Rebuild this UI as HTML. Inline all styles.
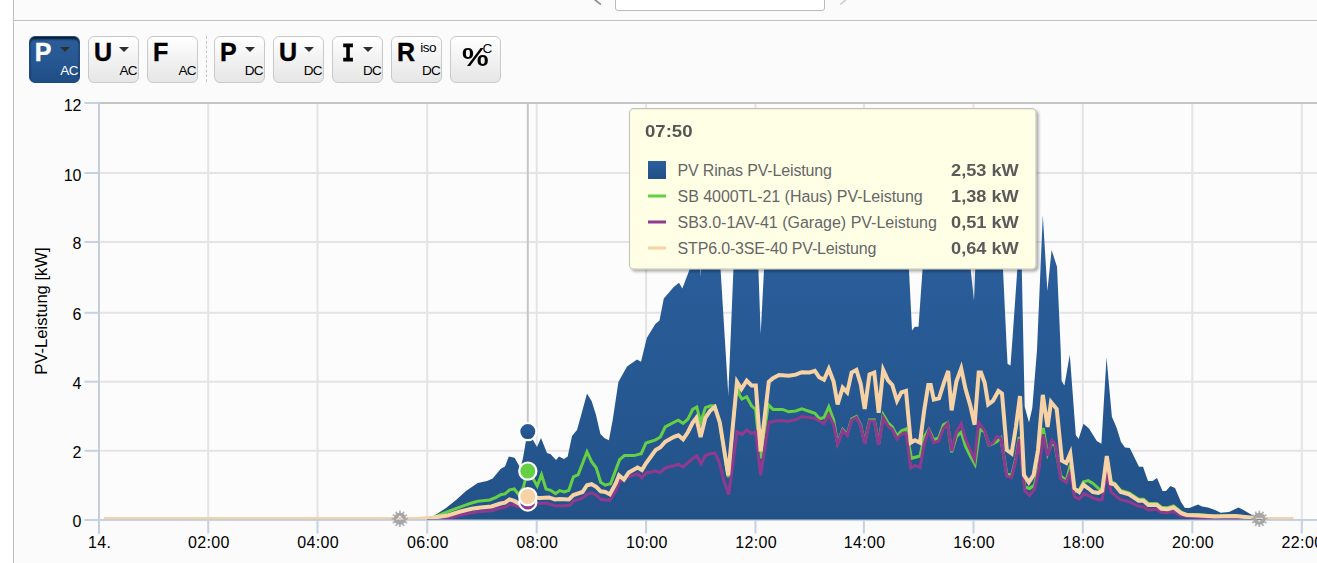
<!DOCTYPE html>
<html><head><meta charset="utf-8"><title>PV</title>
<style>
html,body{margin:0;padding:0;}
body{width:1317px;height:563px;overflow:hidden;background:#ffffff;position:relative;font-family:"Liberation Sans",sans-serif;color:#000;}
.abs{position:absolute;white-space:nowrap;}
.btn{position:absolute;top:36px;width:49.2px;height:45px;border:1px solid #c9c9c9;border-radius:6px;background:linear-gradient(#ffffff,#f3f3f3 45%,#e6e6e6);box-sizing:content-box;}
.btn.act{background:linear-gradient(#1c3f6b 0,#2a5c98 9%,#275893 50%,#1f4d84 100%);border-color:#1f4a7d;color:#fff;box-shadow:inset 0 2px 2px rgba(0,0,0,0.6);}
.btn .big{-webkit-text-stroke:0.4px currentColor;position:absolute;left:4.8px;top:0.5px;font-weight:bold;font-size:25px;line-height:29px;}
.btn .sub{position:absolute;right:1.5px;bottom:4px;font-size:13.5px;line-height:14px;letter-spacing:-0.7px;}
.btn .tri{position:absolute;left:30px;top:9.5px;width:0;height:0;border-left:5.5px solid transparent;border-right:5.5px solid transparent;border-top:5.8px solid #2e2e2e;}
.btn .iso{position:absolute;left:28px;top:4px;font-size:13.5px;line-height:14px;letter-spacing:-0.5px;}
.xl{position:absolute;top:533.8px;width:80px;text-align:center;font-size:16px;line-height:18px;letter-spacing:0.35px;}
.yl{position:absolute;left:20px;width:61.5px;text-align:right;font-size:16px;line-height:18px;}
.tl{position:absolute;left:677.5px;font-size:16px;line-height:20px;color:#666;white-space:nowrap;}
.tv{position:absolute;left:950.5px;font-size:16px;line-height:20px;color:#5a5a5a;font-weight:bold;white-space:nowrap;transform:scaleX(1.138);transform-origin:0 0;}
</style></head><body>

<div class="abs" style="left:13px;top:0;width:1304px;height:563px;background:#fbfbfb"></div>
<div class="abs" style="left:13px;top:19.9px;width:1304px;height:1.2px;background:#c2c2c2"></div>
<div class="abs" style="left:12.8px;top:0;width:1.5px;height:563px;background:#bdbdbd"></div>
<div class="abs" style="left:614.8px;top:-10px;width:208.1px;height:18.5px;border:1.2px solid #bababa;border-radius:3px;background:#fff"></div>
<svg class="abs" style="left:590px;top:0" width="260" height="12"><path d="M3.4,-1.4 L10.3,4.1" fill="none" stroke="#8c8c8c" stroke-width="1.7" stroke-linecap="round"/><path d="M256.5,-0.8 L250.8,4" fill="none" stroke="#cdcdcd" stroke-width="1.6" stroke-linecap="round"/></svg>
<svg width="1317" height="563" viewBox="0 0 1317 563" style="position:absolute;left:0;top:0">
<defs>
<linearGradient id="ab" x1="0" y1="0" x2="0" y2="1"><stop offset="0" stop-color="#2b5f9d"/><stop offset="1" stop-color="#225288"/></linearGradient>
<linearGradient id="sw" x1="0" y1="0" x2="0" y2="1"><stop offset="0" stop-color="#2b5f9d"/><stop offset="1" stop-color="#214f86"/></linearGradient>
<clipPath id="cp"><rect x="100" y="104" width="1217" height="416"/></clipPath>
<filter id="sh" x="-5%" y="-5%" width="112%" height="115%"><feGaussianBlur in="SourceAlpha" stdDeviation="1.6"/><feOffset dx="1.5" dy="1.5"/><feComponentTransfer><feFuncA type="linear" slope="0.35"/></feComponentTransfer><feMerge><feMergeNode/><feMergeNode in="SourceGraphic"/></feMerge></filter>
</defs>
<rect x="99" y="103" width="1218" height="417" fill="#fcfcfc"/>
<rect x="207.2" y="104" width="2" height="415" fill="#e4e4e6"/>
<rect x="316.5" y="104" width="2" height="415" fill="#e4e4e6"/>
<rect x="426.2" y="104" width="2" height="415" fill="#e4e4e6"/>
<rect x="535.7" y="104" width="2" height="415" fill="#e4e4e6"/>
<rect x="645.1" y="104" width="2" height="415" fill="#e4e4e6"/>
<rect x="754.5" y="104" width="2" height="415" fill="#e4e4e6"/>
<rect x="862.9" y="104" width="2" height="415" fill="#e4e4e6"/>
<rect x="972.5" y="104" width="2" height="415" fill="#e4e4e6"/>
<rect x="1081.8" y="104" width="2" height="415" fill="#e4e4e6"/>
<rect x="1191.3" y="104" width="2" height="415" fill="#e4e4e6"/>
<rect x="1300.8" y="104" width="2" height="415" fill="#e4e4e6"/>
<rect x="99" y="449.8" width="1218" height="2" fill="#e4e4e6"/>
<rect x="99" y="380.7" width="1218" height="2" fill="#e4e4e6"/>
<rect x="99" y="311.8" width="1218" height="2" fill="#e4e4e6"/>
<rect x="99" y="241.0" width="1218" height="2" fill="#e4e4e6"/>
<rect x="99" y="172.0" width="1218" height="2" fill="#e4e4e6"/>
<rect x="99" y="102" width="1218" height="2" fill="#c4c4c4"/>
<rect x="526.8" y="104" width="2" height="415" fill="#c6c6c6"/>
<rect x="84.5" y="519.0" width="14" height="2" fill="#c6d2e3"/>
<rect x="84.5" y="449.8" width="14" height="2" fill="#c6d2e3"/>
<rect x="84.5" y="380.7" width="14" height="2" fill="#c6d2e3"/>
<rect x="84.5" y="311.8" width="14" height="2" fill="#c6d2e3"/>
<rect x="84.5" y="241.0" width="14" height="2" fill="#c6d2e3"/>
<rect x="84.5" y="172.0" width="14" height="2" fill="#c6d2e3"/>
<rect x="84.5" y="102.0" width="14" height="2" fill="#c6d2e3"/>
<rect x="98.0" y="519" width="2" height="14.5" fill="#c6d2e3"/>
<rect x="207.2" y="519" width="2" height="14.5" fill="#c6d2e3"/>
<rect x="316.5" y="519" width="2" height="14.5" fill="#c6d2e3"/>
<rect x="426.2" y="519" width="2" height="14.5" fill="#c6d2e3"/>
<rect x="535.7" y="519" width="2" height="14.5" fill="#c6d2e3"/>
<rect x="645.1" y="519" width="2" height="14.5" fill="#c6d2e3"/>
<rect x="754.5" y="519" width="2" height="14.5" fill="#c6d2e3"/>
<rect x="862.9" y="519" width="2" height="14.5" fill="#c6d2e3"/>
<rect x="972.5" y="519" width="2" height="14.5" fill="#c6d2e3"/>
<rect x="1081.8" y="519" width="2" height="14.5" fill="#c6d2e3"/>
<rect x="1191.3" y="519" width="2" height="14.5" fill="#c6d2e3"/>
<rect x="1300.8" y="519" width="2" height="14.5" fill="#c6d2e3"/>
<rect x="98" y="102" width="2" height="431.5" fill="#c3cfe0"/>
<rect x="98" y="519" width="1219" height="1.9" fill="#c3cfe0"/>
<g clip-path="url(#cp)"><polygon points="427.0,519.0 432.0,517.0 445.4,508.5 456.0,500.0 466.0,491.0 477.7,483.0 487.0,481.0 492.7,478.5 500.8,468.8 505.0,466.5 508.8,456.5 514.6,457.7 520.4,468.0 523.0,458.0 527.5,432.0 533.0,440.0 537.0,447.0 541.0,438.0 547.0,453.0 550.4,454.0 556.0,460.0 559.0,456.5 564.0,459.0 567.7,456.5 572.0,436.0 577.0,430.0 582.0,412.0 587.0,393.5 591.6,401.0 596.0,415.0 600.4,434.0 604.6,438.3 608.9,440.3 612.7,420.0 618.4,382.0 627.0,366.5 637.0,359.4 641.0,361.7 646.8,338.0 655.3,324.0 659.5,320.5 663.8,298.4 673.7,287.0 679.0,282.7 682.3,288.4 689.4,270.0 693.0,240.0 699.2,240.0 700.7,277.0 702.2,240.0 718.5,240.0 720.6,270.0 728.3,395.0 733.4,270.0 735.0,240.0 757.5,240.0 758.4,270.0 760.7,334.0 764.0,270.0 765.0,240.0 907.5,240.0 909.0,270.0 912.0,330.5 914.8,326.8 918.5,326.8 922.5,270.0 923.5,240.0 968.0,240.0 970.7,269.5 974.0,300.8 975.2,269.5 976.0,240.0 1001.6,240.0 1003.0,269.5 1006.8,350.0 1007.6,364.0 1010.5,365.6 1012.4,340.0 1017.3,269.5 1019.5,240.0 1021.8,269.5 1024.7,406.8 1029.0,422.4 1032.3,408.0 1037.0,350.0 1042.8,215.0 1047.4,291.0 1051.6,250.0 1057.0,266.7 1060.7,350.0 1061.6,381.0 1064.4,385.5 1069.8,354.8 1075.8,435.0 1078.6,438.9 1083.5,423.8 1089.0,428.6 1096.8,440.9 1101.4,443.7 1106.5,357.6 1111.9,416.7 1116.7,428.0 1121.0,442.0 1125.0,447.4 1129.8,448.0 1139.0,466.8 1143.0,466.8 1148.0,481.0 1152.5,481.0 1157.0,478.0 1162.5,491.0 1166.0,491.0 1170.4,486.0 1175.0,488.0 1181.0,502.0 1185.0,508.0 1189.4,508.0 1198.0,504.5 1202.0,506.5 1208.0,507.4 1215.0,510.0 1220.7,512.8 1229.0,512.0 1238.6,507.4 1243.4,510.0 1252.0,515.0 1257.6,518.0 1262.0,519.0 1262,519.6 427,519.6" fill="url(#ab)"/></g>
<clipPath id="cl"><rect x="99" y="100" width="1218" height="419.1"/></clipPath><g clip-path="url(#cl)">
<polyline points="104.0,519.0 430.0,519.0 442.8,513.6 455.0,508.8 464.0,505.7 470.0,503.5 477.7,501.2 489.9,500.0 496.0,497.4 501.2,494.4 505.0,493.9 509.6,489.8 514.2,489.0 518.7,494.4 523.3,487.5 527.5,471.0 532.4,477.6 537.2,486.0 541.5,474.6 546.0,489.0 550.6,490.3 555.6,493.6 559.7,490.6 564.3,492.0 568.8,490.3 573.4,476.9 578.2,474.6 587.0,451.8 591.6,461.7 596.2,467.8 600.7,482.2 605.3,485.2 610.6,483.7 619.6,459.7 624.4,455.6 634.0,455.6 641.2,453.7 646.0,443.0 655.6,439.8 660.4,437.0 665.2,426.9 673.5,422.5 678.3,420.2 683.1,423.3 688.0,419.0 692.7,409.4 696.8,407.0 700.6,422.5 705.4,407.7 710.7,405.8 714.8,405.8 719.8,423.0 728.2,477.2 737.0,382.0 739.5,395.0 741.9,399.0 746.7,396.7 751.5,405.8 755.6,409.4 760.6,458.5 768.3,404.6 773.0,409.4 782.7,409.4 788.7,411.8 795.8,411.0 801.8,408.9 809.6,411.5 814.9,413.2 819.7,418.7 824.0,417.5 828.8,406.8 833.6,420.0 837.6,443.0 842.7,429.5 847.2,434.5 851.6,419.0 856.4,416.6 860.7,425.0 864.7,443.0 869.5,420.0 874.3,420.0 878.7,444.0 883.2,414.7 888.0,422.8 892.3,427.0 897.0,436.0 901.4,430.7 906.0,429.0 911.5,458.3 920.0,456.0 924.2,436.7 928.8,429.5 933.8,440.0 938.6,438.0 943.4,424.7 947.5,422.5 951.6,452.3 956.4,436.7 961.2,432.0 965.5,446.3 970.3,456.0 975.0,464.3 979.9,429.5 984.7,431.5 989.0,445.0 993.0,443.5 997.0,441.5 1000.8,438.0 1006.8,474.0 1011.6,475.5 1016.0,457.5 1019.3,437.0 1024.8,487.0 1029.6,488.5 1034.4,485.0 1039.0,466.0 1043.2,428.0 1047.6,454.0 1051.9,443.0 1055.2,446.0 1060.7,476.0 1066.3,480.5 1070.3,465.0 1074.4,492.0 1079.2,490.0 1083.5,481.8 1088.3,480.6 1093.0,483.5 1098.4,488.3 1102.2,492.0 1106.8,470.0 1111.0,482.0 1114.7,483.2 1120.7,490.5 1129.0,492.8 1138.7,499.3 1143.5,499.3 1148.3,503.5 1156.7,503.5 1161.5,507.2 1167.5,507.7 1173.5,506.0 1181.8,512.5 1186.6,514.5 1198.0,514.5 1215.0,516.0 1235.0,515.5 1250.0,517.5 1262.0,519.0" fill="none" stroke="#66d045" stroke-width="3" stroke-linejoin="miter"/>
<polyline points="104.0,519.0 447.0,518.5 465.6,514.0 477.7,511.8 491.4,510.6 500.5,508.0 505.8,507.0 510.4,504.0 518.7,506.5 527.5,502.3 538.5,503.5 546.0,503.0 555.0,505.7 565.8,505.7 570.3,505.0 573.4,501.0 582.5,498.0 587.0,494.4 591.6,492.8 596.2,495.0 600.7,499.4 609.8,500.4 616.0,490.6 619.6,481.3 624.0,479.6 628.7,476.5 637.6,474.0 641.9,477.7 646.0,473.0 655.6,471.0 660.4,472.4 665.2,468.0 673.5,465.7 678.3,464.5 683.1,467.0 692.7,458.5 696.8,456.0 701.0,463.8 705.4,455.6 710.2,453.7 714.8,453.2 719.0,461.0 724.0,481.3 728.7,494.5 737.0,432.0 741.9,434.5 746.7,430.0 751.5,433.3 755.8,432.0 760.6,475.3 768.8,422.5 777.9,420.6 788.7,421.3 795.8,419.7 801.8,416.5 814.4,418.3 819.2,421.0 824.0,423.5 828.8,415.0 833.6,424.7 837.6,444.0 842.7,430.7 847.2,435.5 851.6,420.0 856.4,417.6 860.7,426.0 864.7,444.0 869.5,421.0 874.3,421.0 878.7,445.0 883.2,417.6 888.0,426.0 892.3,429.5 897.0,439.0 901.4,434.3 906.0,433.0 910.8,468.0 915.0,465.5 920.0,467.4 924.2,444.0 928.8,430.7 933.8,442.7 938.6,441.0 943.4,428.3 947.5,423.5 951.6,451.0 956.4,432.0 961.2,423.5 965.5,439.0 970.3,450.0 974.6,459.5 978.7,422.8 984.7,430.7 989.0,445.0 993.0,442.7 997.0,436.7 1000.8,438.0 1006.8,476.3 1011.6,477.5 1016.0,459.5 1019.3,439.0 1024.8,490.7 1029.6,495.5 1034.4,489.5 1039.0,469.0 1043.2,434.4 1047.6,456.0 1051.9,440.4 1055.2,444.0 1060.7,478.7 1066.3,482.3 1070.3,471.5 1074.4,496.7 1079.2,499.0 1084.0,493.6 1088.3,495.5 1093.0,498.0 1098.4,499.8 1102.2,499.8 1106.8,472.7 1111.0,492.0 1120.7,499.8 1129.0,501.5 1138.7,506.3 1143.5,507.0 1148.3,510.0 1156.7,509.2 1161.5,512.3 1167.5,512.8 1173.5,511.6 1181.8,516.0 1190.0,517.0 1215.0,518.0 1262.0,519.0" fill="none" stroke="#8e3a8e" stroke-width="3.1" stroke-linejoin="miter"/>
<polyline points="104.0,519.0 418.0,519.0 432.0,517.8 447.3,515.6 459.5,511.8 471.6,508.8 480.7,507.6 491.4,506.5 500.5,503.5 505.0,502.7 509.6,499.4 514.2,500.9 518.7,503.5 527.5,497.5 540.0,498.0 549.0,497.4 555.0,499.4 559.7,499.0 568.8,499.4 573.4,495.0 582.5,492.0 587.0,485.2 591.6,484.2 596.2,486.8 600.7,491.3 605.3,492.0 609.8,494.4 616.0,483.0 619.0,475.3 623.9,479.6 628.7,472.4 637.6,467.6 641.9,470.0 646.0,463.3 655.6,450.0 660.4,447.3 665.2,441.7 673.5,437.0 678.3,435.3 683.1,439.3 688.0,432.0 692.7,422.5 696.3,417.8 700.6,437.0 705.4,417.8 710.2,410.6 714.8,407.0 719.8,422.5 728.2,475.3 737.0,381.8 741.4,389.0 746.7,380.6 751.5,385.4 755.8,385.4 760.6,451.3 768.8,381.8 773.0,378.2 779.0,375.0 788.7,375.8 795.8,374.6 801.8,372.2 809.6,372.5 814.9,370.8 819.2,377.3 824.0,379.7 828.8,369.0 833.6,381.6 837.6,404.4 842.7,387.6 847.2,392.4 851.6,372.5 856.4,370.0 860.7,384.0 864.7,409.0 869.5,374.4 874.3,372.5 878.7,412.8 883.2,370.0 888.0,380.4 892.3,385.0 897.0,400.8 901.4,392.4 906.0,391.0 910.8,442.7 915.0,440.3 920.0,442.7 924.2,410.4 928.3,385.0 930.7,385.0 933.8,399.6 939.0,398.4 943.9,382.8 948.2,370.8 951.6,410.4 956.4,381.6 961.2,368.4 965.5,388.8 970.3,405.6 974.6,424.7 978.7,372.5 981.0,372.5 984.7,382.8 988.2,404.4 993.0,400.8 998.4,391.0 1002.0,393.6 1006.8,450.0 1011.6,453.5 1015.9,427.0 1020.0,396.0 1024.0,475.0 1028.8,482.3 1033.6,475.0 1038.0,450.0 1042.8,394.8 1047.6,427.0 1051.0,402.0 1056.7,409.0 1062.0,460.7 1066.3,463.0 1070.3,453.5 1074.4,488.3 1079.2,492.0 1083.5,484.7 1088.3,488.3 1093.0,492.0 1098.4,493.0 1102.2,490.7 1106.8,456.0 1111.0,483.5 1114.7,484.7 1120.7,492.0 1129.0,494.3 1138.7,500.8 1143.5,500.8 1148.3,505.0 1156.7,505.0 1161.5,508.7 1167.5,509.2 1173.5,507.5 1181.8,513.5 1186.6,515.0 1198.0,515.5 1215.0,516.5 1235.0,516.0 1250.0,517.5 1262.0,519.0 1293.5,519.0" fill="none" stroke="#f7d2a4" stroke-width="4" stroke-linejoin="miter"/></g>
<g transform="translate(399.9,518.8)" fill="#a6a6a6" stroke="none"><rect x="-0.95" y="-8.2" width="1.9" height="4" fill-opacity="0.8" transform="rotate(0)"/><rect x="-0.95" y="-8.2" width="1.9" height="4" fill-opacity="0.8" transform="rotate(30)"/><rect x="-0.95" y="-8.2" width="1.9" height="4" fill-opacity="0.8" transform="rotate(60)"/><rect x="-0.95" y="-8.2" width="1.9" height="4" fill-opacity="0.8" transform="rotate(90)"/><rect x="-0.95" y="-8.2" width="1.9" height="4" fill-opacity="0.8" transform="rotate(120)"/><rect x="-0.95" y="-8.2" width="1.9" height="4" fill-opacity="0.8" transform="rotate(150)"/><rect x="-0.95" y="-8.2" width="1.9" height="4" fill-opacity="0.8" transform="rotate(180)"/><rect x="-0.95" y="-8.2" width="1.9" height="4" fill-opacity="0.8" transform="rotate(210)"/><rect x="-0.95" y="-8.2" width="1.9" height="4" fill-opacity="0.8" transform="rotate(240)"/><rect x="-0.95" y="-8.2" width="1.9" height="4" fill-opacity="0.8" transform="rotate(270)"/><rect x="-0.95" y="-8.2" width="1.9" height="4" fill-opacity="0.8" transform="rotate(300)"/><rect x="-0.95" y="-8.2" width="1.9" height="4" fill-opacity="0.8" transform="rotate(330)"/><path fill-rule="evenodd" d="M-6,0 A6,6 0 1,1 6,0 A6,6 0 1,1 -6,0 Z M-4.2,1.1 L4.2,1.1 L0,-3.3 Z"/></g>
<g transform="translate(1259.3,518.8)" fill="#a6a6a6" stroke="none"><rect x="-0.95" y="-8.2" width="1.9" height="4" fill-opacity="0.8" transform="rotate(0)"/><rect x="-0.95" y="-8.2" width="1.9" height="4" fill-opacity="0.8" transform="rotate(30)"/><rect x="-0.95" y="-8.2" width="1.9" height="4" fill-opacity="0.8" transform="rotate(60)"/><rect x="-0.95" y="-8.2" width="1.9" height="4" fill-opacity="0.8" transform="rotate(90)"/><rect x="-0.95" y="-8.2" width="1.9" height="4" fill-opacity="0.8" transform="rotate(120)"/><rect x="-0.95" y="-8.2" width="1.9" height="4" fill-opacity="0.8" transform="rotate(150)"/><rect x="-0.95" y="-8.2" width="1.9" height="4" fill-opacity="0.8" transform="rotate(180)"/><rect x="-0.95" y="-8.2" width="1.9" height="4" fill-opacity="0.8" transform="rotate(210)"/><rect x="-0.95" y="-8.2" width="1.9" height="4" fill-opacity="0.8" transform="rotate(240)"/><rect x="-0.95" y="-8.2" width="1.9" height="4" fill-opacity="0.8" transform="rotate(270)"/><rect x="-0.95" y="-8.2" width="1.9" height="4" fill-opacity="0.8" transform="rotate(300)"/><rect x="-0.95" y="-8.2" width="1.9" height="4" fill-opacity="0.8" transform="rotate(330)"/><path fill-rule="evenodd" d="M-6,0 A6,6 0 1,1 6,0 A6,6 0 1,1 -6,0 Z M-4.2,-1.1 L4.2,-1.1 L0,3.3 Z"/></g>
<circle cx="527.8" cy="502" r="8.6" fill="#8e3a8e" stroke="#fff" stroke-width="2.2"/>
<circle cx="527.8" cy="471.1" r="8.6" fill="#66d045" stroke="#fff" stroke-width="2.2"/>
<circle cx="527.8" cy="496.6" r="8.6" fill="#f7d2a4" stroke="#fff" stroke-width="2.2"/>
<circle cx="527.8" cy="431.6" r="8.6" fill="url(#sw)" stroke="#fff" stroke-width="2.2"/>
<rect x="629.5" y="108.6" width="406.5" height="160.4" rx="4" ry="4" fill="#ffffe6" stroke="#c4c4b8" stroke-width="1.1" filter="url(#sh)"/>
<rect x="648" y="161" width="18" height="18" fill="url(#sw)"/>
<rect x="648" y="194.5" width="18" height="3" fill="#66d045"/>
<rect x="648" y="220.5" width="18" height="3" fill="#8e3a8e"/>
<rect x="648" y="246.5" width="18" height="3" fill="#f7d2a4"/>
</svg>
<div class="btn act" style="left:29px"><span class="big">P</span><span class=tri></span><span class="sub">AC</span></div>
<div class="btn" style="left:88.2px"><span class="big">U</span><span class=tri></span><span class="sub">AC</span></div>
<div class="btn" style="left:147.2px"><span class="big">F</span><span class="sub">AC</span></div>
<div class="abs" style="left:206px;top:36px;height:46px;width:0;border-left:1px dashed #c4c4c4"></div>
<div class="btn" style="left:214.2px"><span class="big">P</span><span class=tri></span><span class="sub">DC</span></div>
<div class="btn" style="left:273.2px"><span class="big">U</span><span class=tri></span><span class="sub">DC</span></div>
<div class="btn" style="left:332.3px"><span class="big"><span style="font-family:'Liberation Mono',monospace;font-size:25.5px;-webkit-text-stroke:0.8px currentColor;display:inline-block;transform:scaleX(0.8);transform-origin:0 0;position:relative;left:4.2px;top:0px">I</span></span><span class=tri></span><span class="sub">DC</span></div>
<div class="btn" style="left:391.3px"><span class="big">R</span><span class="iso">iso</span><span class="sub">DC</span></div>
<div class="btn" style="left:450.3px"><span class="abs" style="left:10.8px;top:6px;font-weight:bold;font-size:25px;line-height:29px;transform:scaleX(1.2);transform-origin:0 0">%</span><span class="abs" style="left:31.3px;top:4.5px;font-size:13.5px;line-height:14px;">C</span></div>
<div class="xl" style="left:59.7px">14.</div>
<div class="xl" style="left:168.9px">02:00</div>
<div class="xl" style="left:278.2px">04:00</div>
<div class="xl" style="left:387.9px">06:00</div>
<div class="xl" style="left:497.4px">08:00</div>
<div class="xl" style="left:606.8px">10:00</div>
<div class="xl" style="left:716.2px">12:00</div>
<div class="xl" style="left:824.6px">14:00</div>
<div class="xl" style="left:934.2px">16:00</div>
<div class="xl" style="left:1043.5px">18:00</div>
<div class="xl" style="left:1153.0px">20:00</div>
<div class="xl" style="left:1262.5px">22:00</div>
<div class="yl" style="top:513.4px">0</div>
<div class="yl" style="top:444.2px">2</div>
<div class="yl" style="top:375.1px">4</div>
<div class="yl" style="top:306.2px">6</div>
<div class="yl" style="top:235.4px">8</div>
<div class="yl" style="top:167.0px">10</div>
<div class="yl" style="top:97.0px">12</div>
<div class="abs" style="left:41.8px;top:311px;font-size:16.6px;line-height:18px;transform:translate(-50%,-50%) rotate(-90deg);">PV-Leistung [kW]</div>
<div class="abs" style="left:644.5px;top:121.8px;font-size:16px;line-height:20px;font-weight:bold;color:#555;transform:scaleX(1.16);transform-origin:0 0">07:50</div>
<div class="tl" style="top:161px;letter-spacing:-0.16px">PV Rinas PV-Leistung</div><div class="tv" style="top:161px">2,53 kW</div>
<div class="tl" style="top:187px;letter-spacing:-0.04px">SB 4000TL-21 (Haus) PV-Leistung</div><div class="tv" style="top:187px">1,38 kW</div>
<div class="tl" style="top:213px;letter-spacing:0px">SB3.0-1AV-41 (Garage) PV-Leistung</div><div class="tv" style="top:213px">0,51 kW</div>
<div class="tl" style="top:239px;letter-spacing:-0.16px">STP6.0-3SE-40 PV-Leistung</div><div class="tv" style="top:239px">0,64 kW</div>
</body></html>
